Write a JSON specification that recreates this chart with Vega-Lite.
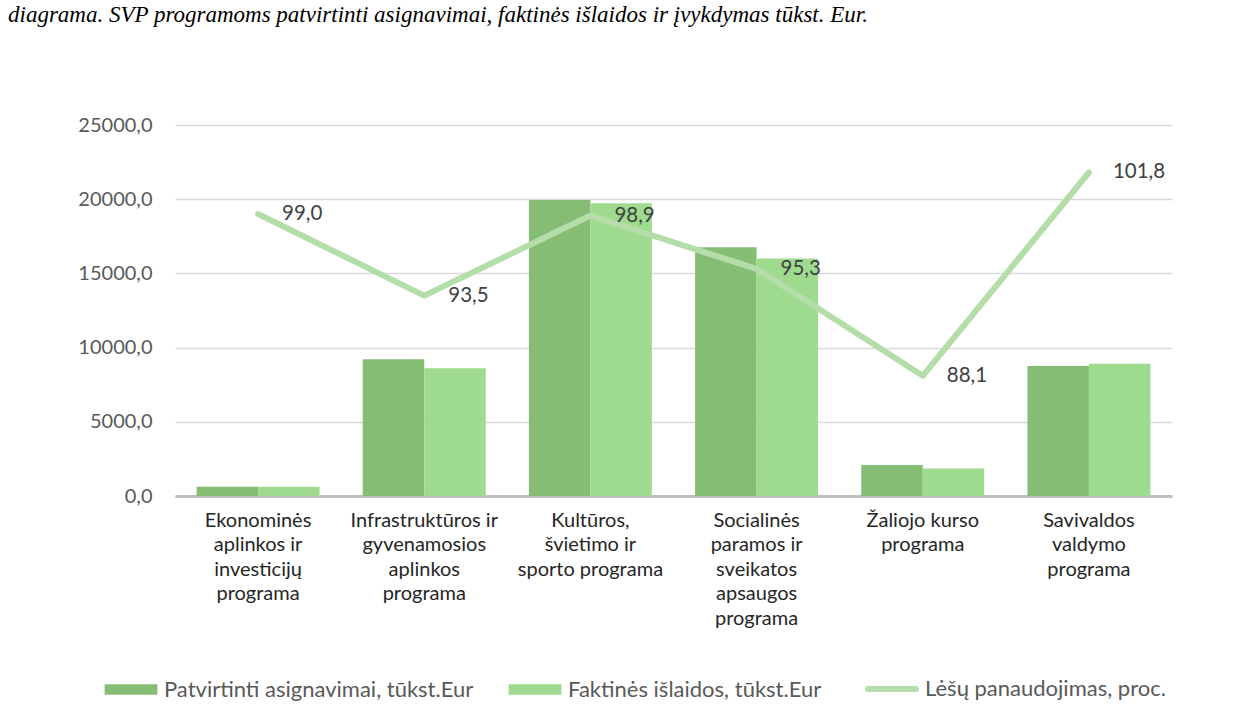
{
  "$schema": "https://vega.github.io/schema/vega-lite/v6.json",
  "width": 997,
  "height": 371,
  "autosize": {"type": "none"},
  "padding": {"left": 175, "top": 125, "right": 81, "bottom": 224},
  "background": "white",
  "title": {
    "text": "diagrama. SVP programoms patvirtinti asignavimai, faktinės išlaidos ir įvykdymas tūkst. Eur.",
    "anchor": "start",
    "frame": "group",
    "dx": -167,
    "offset": 88,
    "font": "Liberation Serif",
    "fontStyle": "italic",
    "fontWeight": "normal",
    "fontSize": 23,
    "color": "#000000"
  },
  "config": {
    "locale": {"number": {"decimal": ",", "thousands": "", "grouping": [3], "currency": ["", " €"]}},
    "view": {"stroke": null},
    "font": "Lato",
    "axis": {"labelFont": "Lato", "labelFontSize": 20, "labelColor": "#595959", "ticks": false, "title": null}
  },
  "datasets": {
    "bars": [
      {"program": "Ekonominės|aplinkos ir|investicijų|programa", "series": "Patvirtinti asignavimai, tūkst.Eur", "value": 630},
      {"program": "Ekonominės|aplinkos ir|investicijų|programa", "series": "Faktinės išlaidos, tūkst.Eur", "value": 620},
      {"program": "Infrastruktūros ir|gyvenamosios|aplinkos|programa", "series": "Patvirtinti asignavimai, tūkst.Eur", "value": 9210},
      {"program": "Infrastruktūros ir|gyvenamosios|aplinkos|programa", "series": "Faktinės išlaidos, tūkst.Eur", "value": 8610},
      {"program": "Kultūros,|švietimo ir|sporto programa", "series": "Patvirtinti asignavimai, tūkst.Eur", "value": 19950},
      {"program": "Kultūros,|švietimo ir|sporto programa", "series": "Faktinės išlaidos, tūkst.Eur", "value": 19720},
      {"program": "Socialinės|paramos ir|sveikatos|apsaugos|programa", "series": "Patvirtinti asignavimai, tūkst.Eur", "value": 16760},
      {"program": "Socialinės|paramos ir|sveikatos|apsaugos|programa", "series": "Faktinės išlaidos, tūkst.Eur", "value": 16000},
      {"program": "Žaliojo kurso|programa", "series": "Patvirtinti asignavimai, tūkst.Eur", "value": 2090},
      {"program": "Žaliojo kurso|programa", "series": "Faktinės išlaidos, tūkst.Eur", "value": 1850},
      {"program": "Savivaldos|valdymo|programa", "series": "Patvirtinti asignavimai, tūkst.Eur", "value": 8760},
      {"program": "Savivaldos|valdymo|programa", "series": "Faktinės išlaidos, tūkst.Eur", "value": 8915}
    ],
    "usage": [
      {"program": "Ekonominės|aplinkos ir|investicijų|programa", "series": "Lėšų panaudojimas, proc.", "proc": 99.0},
      {"program": "Infrastruktūros ir|gyvenamosios|aplinkos|programa", "series": "Lėšų panaudojimas, proc.", "proc": 93.5},
      {"program": "Kultūros,|švietimo ir|sporto programa", "series": "Lėšų panaudojimas, proc.", "proc": 98.9},
      {"program": "Socialinės|paramos ir|sveikatos|apsaugos|programa", "series": "Lėšų panaudojimas, proc.", "proc": 95.3},
      {"program": "Žaliojo kurso|programa", "series": "Lėšų panaudojimas, proc.", "proc": 88.1},
      {"program": "Savivaldos|valdymo|programa", "series": "Lėšų panaudojimas, proc.", "proc": 101.8}
    ]
  },
  "encoding": {
    "x": {
      "field": "program",
      "type": "nominal",
      "sort": null,
      "scale": {"paddingInner": 0.26, "paddingOuter": 0.13},
      "axis": {
        "labelAngle": 0,
        "labelExpr": "split(datum.label, '|')",
        "labelColor": "#262626",
        "labelLineHeight": 24.5,
        "labelBaseline": "top",
        "labelPadding": 14,
        "domainColor": "#bfbfbf",
        "domainWidth": 3,
        "labelLimit": 300
      }
    }
  },
  "layer": [
    {
      "data": {"name": "bars"},
      "mark": {"type": "bar"},
      "encoding": {
        "xOffset": {"field": "series", "type": "nominal", "sort": ["Patvirtinti asignavimai, tūkst.Eur", "Faktinės išlaidos, tūkst.Eur"], "scale": {"paddingInner": 0, "paddingOuter": 0}},
        "y": {
          "field": "value",
          "type": "quantitative",
          "scale": {"domain": [0, 25000], "nice": false},
          "axis": {"values": [0, 5000, 10000, 15000, 20000, 25000], "format": ".1f", "grid": true, "gridColor": "#d9d9d9", "gridWidth": 1.5, "domain": false, "labelPadding": 23}
        },
        "color": {
          "field": "series",
          "type": "nominal",
          "scale": {
            "domain": ["Patvirtinti asignavimai, tūkst.Eur", "Faktinės išlaidos, tūkst.Eur", "Lėšų panaudojimas, proc."],
            "range": ["#86bd75", "#9edb8f", "#b5ddaa"]
          },
          "legend": {
            "orient": "none",
            "legendX": -55,
            "legendY": 553,
            "direction": "horizontal",
            "title": null,
            "labelFont": "Lato",
            "labelFontSize": 22,
            "labelColor": "#595959",
            "labelLimit": 0,
            "symbolSize": 2304,
            "columnPadding": 34,
            "labelOffset": 22,
            "symbolType": "M-1.1,-0.22H1.1V0.22H-1.1Z",
            "encode": {
              "symbols": {
                "update": {
                  "shape": {"signal": "datum.value === 'Lėšų panaudojimas, proc.' ? 'stroke' : 'M-1.1,-0.22H1.1V0.22H-1.1Z'"},
                  "strokeWidth": {"signal": "datum.value === 'Lėšų panaudojimas, proc.' ? 6 : 0"},
                  "fillOpacity": {"signal": "datum.value === 'Lėšų panaudojimas, proc.' ? 0 : 1"},
                  "fill": {"scale": "color", "field": "value"},
                  "stroke": {"scale": "color", "field": "value"},
                  "strokeCap": {"value": "round"},
                  "opacity": {"value": 1}
                }
              }
            }
          }
        }
      }
    },
    {
      "data": {"name": "usage"},
      "layer": [
        {
          "mark": {"type": "line", "strokeWidth": 6, "strokeJoin": "round", "strokeCap": "round"},
          "encoding": {
            "y": {
              "field": "proc",
              "type": "quantitative",
              "scale": {"domain": [80, 105], "nice": false},
              "axis": {"orient": "right", "values": [80, 85, 90, 95, 100, 105], "format": ".1f", "grid": false, "domain": false, "labelPadding": 23}
            },
            "color": {"field": "series", "type": "nominal"}
          }
        },
        {
          "mark": {"type": "text", "align": "left", "baseline": "middle", "dx": 24, "font": "Lato", "fontSize": 20.5, "color": "#404040"},
          "encoding": {
            "y": {"field": "proc", "type": "quantitative", "axis": null},
            "text": {"field": "proc", "type": "quantitative", "format": ".1f"}
          }
        }
      ]
    }
  ],
  "resolve": {"scale": {"y": "independent"}}
}
